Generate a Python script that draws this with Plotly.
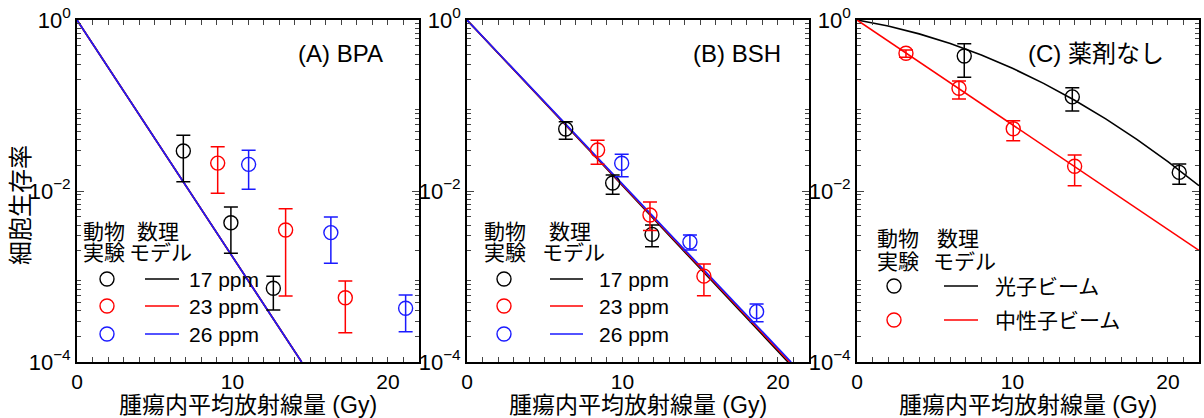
import plotly.graph_objects as go

# ---------------- data ----------------
# Panel A: BPA
a_dose_17 = [6.84, 9.90, 12.63]
a_sf_17 = [0.0294, 0.00426, 7.28e-4]
a_hi_17 = [0.0448, 0.0065, 1.01e-3]
a_lo_17 = [0.01285, 0.00187, 4.06e-4]
a_dose_23 = [9.05, 13.42, 17.26]
a_sf_23 = [0.0212, 0.0035, 5.65e-4]
a_hi_23 = [0.033, 0.0062, 8.86e-4]
a_lo_23 = [0.0094, 5.9e-4, 2.2e-4]
a_dose_26 = [11.04, 16.33, 21.14]
a_sf_26 = [0.0205, 0.00326, 4.25e-4]
a_hi_26 = [0.0299, 0.00497, 6.08e-4]
a_lo_26 = [0.0105, 0.00143, 2.26e-4]
a_model_dose_17 = [0, 14.45]
a_model_dose_23 = [0, 14.45]
a_model_dose_26 = [0, 14.45]
a_model_sf = [1.0, 1e-4]

# Panel B: BSH
b_dose_17 = [6.35, 9.37, 11.90]
b_sf_17 = [0.0531, 0.0124, 0.00311]
b_hi_17 = [0.0647, 0.0154, 0.0040]
b_lo_17 = [0.0403, 0.00915, 0.00223]
b_dose_23 = [8.40, 11.77, 15.24]
b_sf_23 = [0.0302, 0.00524, 0.00101]
b_hi_23 = [0.0392, 0.00743, 0.0014]
b_lo_23 = [0.0205, 0.00344, 5.97e-4]
b_dose_26 = [9.95, 14.34, 18.63]
b_sf_26 = [0.0211, 0.00253, 3.88e-4]
b_hi_26 = [0.0269, 0.00306, 4.77e-4]
b_lo_26 = [0.0147, 0.00204, 2.96e-4]
b_model_dose_17 = [0, 20.65]
b_model_dose_23 = [0, 20.75]
b_model_dose_26 = [0, 20.85]
b_model_sf = [1.0, 1e-4]

# Panel C: no drug
c_dose_photon = [6.90, 13.85, 20.73]
c_sf_photon = [0.379, 0.126, 0.0165]
c_hi_photon = [0.528, 0.161, 0.0207]
c_lo_photon = [0.214, 0.0863, 0.0120]
c_dose_neutron = [3.15, 6.56, 10.05, 14.0]
c_sf_neutron = [0.408, 0.159, 0.0535, 0.0195]
c_hi_neutron = [0.446, 0.194, 0.0664, 0.0264]
c_lo_neutron = [0.366, 0.119, 0.0388, 0.0115]
c_model_dose_photon = [0, 2, 4, 6, 8, 10, 12, 14, 16, 18, 20, 22]
c_model_sf_photon = [1.0, 0.850, 0.688, 0.530, 0.390, 0.2725, 0.1816,
                     0.1153, 0.0698, 0.0402, 0.0221, 0.01153]
c_model_dose_neutron = [0, 22]
c_model_sf_neutron = [1.0, 0.00202]

x_ticks = [0, 10, 20]
y_label_vals = [1, 0.01, 0.0001]
y_label_text = ["10<sup>0</sup>", "10<sup>\u22122</sup>", "10<sup>\u22124</sup>"]
y_decades_unlabelled = [0.1, 0.001]

panel_labels = ["(A) BPA", "(B) BSH", "(C) 薬剤なし"]
x_title = "腫瘍内平均放射線量 (Gy)"
y_title = "細胞生存率"
leg_ppm = ["17 ppm", "23 ppm", "26 ppm"]
leg_beam = ["光子ビーム", "中性子ビーム"]

# ---------------- style ----------------
W, H = 1204, 418
BLACK, RED, BLUE = "#000000", "#ff0000", "#1a1aff"
FONT = "Liberation Sans, Arial, Noto Sans CJK JP, sans-serif"


def px(x):          # page pixel -> paper fraction
    return x / W


def py(y):
    return 1 - y / H


fig = go.Figure()


def add_points(xa, ya, dose, sf, hi, lo, color):
    fig.add_trace(go.Scatter(
        x=dose, y=sf, mode="markers", xaxis=xa, yaxis=ya, showlegend=False,
        marker=dict(symbol="circle-open", size=14, color=color, line=dict(width=1.4, color=color)),
        error_y=dict(type="data", symmetric=False,
                     array=[h - v for h, v in zip(hi, sf)],
                     arrayminus=[v - l for v, l in zip(sf, lo)],
                     color=color, thickness=1.5, width=7),
    ))


def add_line(xa, ya, dose, sf, color):
    fig.add_trace(go.Scatter(
        x=dose, y=sf, mode="lines", xaxis=xa, yaxis=ya, showlegend=False,
        line=dict(color=color, width=1.6),
    ))


# Panel A
add_line("x", "y", a_model_dose_17, a_model_sf, BLACK)
add_line("x", "y", a_model_dose_23, a_model_sf, RED)
add_line("x", "y", a_model_dose_26, a_model_sf, BLUE)
add_points("x", "y", a_dose_17, a_sf_17, a_hi_17, a_lo_17, BLACK)
add_points("x", "y", a_dose_23, a_sf_23, a_hi_23, a_lo_23, RED)
add_points("x", "y", a_dose_26, a_sf_26, a_hi_26, a_lo_26, BLUE)
# Panel B
add_line("x2", "y2", b_model_dose_17, b_model_sf, BLACK)
add_line("x2", "y2", b_model_dose_23, b_model_sf, RED)
add_line("x2", "y2", b_model_dose_26, b_model_sf, BLUE)
add_points("x2", "y2", b_dose_17, b_sf_17, b_hi_17, b_lo_17, BLACK)
add_points("x2", "y2", b_dose_23, b_sf_23, b_hi_23, b_lo_23, RED)
add_points("x2", "y2", b_dose_26, b_sf_26, b_hi_26, b_lo_26, BLUE)
# Panel C
add_line("x3", "y3", c_model_dose_photon, c_model_sf_photon, BLACK)
add_line("x3", "y3", c_model_dose_neutron, c_model_sf_neutron, RED)
add_points("x3", "y3", c_dose_photon, c_sf_photon, c_hi_photon, c_lo_photon, BLACK)
add_points("x3", "y3", c_dose_neutron, c_sf_neutron, c_hi_neutron, c_lo_neutron, RED)

panel_left = [77, 467, 857]
panel_w = 342
top, bottom = 20, 362

minor_y = [k * 10 ** e for e in range(-4, 0) for k in range(2, 10)]

layout = dict(
    width=W, height=H, margin=dict(l=0, r=0, t=0, b=0),
    paper_bgcolor="white", plot_bgcolor="white",
    font=dict(family=FONT, size=20, color="black"),
    showlegend=False,
)
for i, L in enumerate(panel_left):
    sfx = "" if i == 0 else str(i + 1)
    layout["xaxis" + sfx] = dict(
        domain=[px(L), px(L + panel_w)], range=[0, 22], anchor="y" + sfx,
        tickmode="array", tickvals=x_ticks, ticks="inside", ticklen=5, tickwidth=1.2,
        minor=dict(dtick=1, ticks="inside", ticklen=5, tickwidth=1.2, showgrid=False),
        showline=True, linewidth=1.8, linecolor="black", mirror="ticks",
        showgrid=False, zeroline=False, automargin=False,
        tickfont=dict(size=21),
        title=dict(text=x_title, font=dict(size=23), standoff=2),
    )
    layout["yaxis" + sfx] = dict(
        domain=[py(bottom), py(top)], type="log", range=[-4, 0], anchor="x" + sfx,
        tickmode="array", tickvals=y_label_vals, ticktext=y_label_text,
        ticks="inside", ticklen=7, tickwidth=1.2,
        minor=dict(tickmode="array", tickvals=minor_y, ticks="inside", ticklen=4,
                   tickwidth=1, showgrid=False),
        showline=True, linewidth=1.8, linecolor="black", mirror="ticks",
        showgrid=False, zeroline=False, automargin=False,
        tickfont=dict(size=22),
    )
    # longer ticks at the unlabelled decades, drawn by an overlaid axis
    layout["yaxis" + str(4 + i)] = dict(
        domain=[py(bottom), py(top)], type="log", range=[-4, 0], anchor="x" + sfx,
        overlaying="y" + sfx, tickmode="array", tickvals=y_decades_unlabelled,
        showticklabels=False,
        ticks="inside", ticklen=7, tickwidth=1.2, mirror="ticks", showline=False,
        showgrid=False, zeroline=False, automargin=False,
    )

annotations = []
shapes = []


def text(x, y, s, size=21, anchor="center", angle=0):
    annotations.append(dict(xref="paper", yref="paper", x=px(x), y=py(y), text=s,
                            showarrow=False, xanchor=anchor, yanchor="middle",
                            textangle=angle, font=dict(size=size, family=FONT)))


def circle(x, y, color):
    shapes.append(dict(type="circle", xref="paper", yref="paper",
                       xsizemode="pixel", ysizemode="pixel",
                       xanchor=px(x), yanchor=py(y), x0=-7, x1=7, y0=-7, y1=7,
                       line=dict(color=color, width=1.4)))


def seg(x0, x1, y, color):
    shapes.append(dict(type="line", xref="paper", yref="paper",
                       x0=px(x0), x1=px(x1), y0=py(y), y1=py(y),
                       line=dict(color=color, width=1.6)))


# y-axis title (shared, left)
text(21, 205, y_title, size=24, angle=-90)

# panel labels
text(340, 53, panel_labels[0], size=24)
text(737, 53, panel_labels[1], size=24)
text(1096, 53, panel_labels[2], size=24)

# legends A & B
for cx, lx0, lx1, tx, h1, h2 in [(107, 145, 179, 187, 104, 158),
                                 (504, 550, 583, 597, 505, 570)]:
    text(h1, 231, "動物")
    text(h1, 252, "実験")
    text(h2, 231, "数理")
    text(h2 + 3, 252, "モデル")
    for k, (yy, col) in enumerate(zip([279, 306, 334], [BLACK, RED, BLUE])):
        circle(cx, yy, col)
        seg(lx0, lx1, yy, col)
        text(tx, yy, leg_ppm[k], anchor="left")

# legend C
text(898, 238, "動物")
text(898, 261, "実験")
text(958, 238, "数理")
text(964, 261, "モデル")
for k, (yy, col) in enumerate(zip([286, 320], [BLACK, RED])):
    circle(894, yy, col)
    seg(944, 978, yy, col)
    text(993, yy, leg_beam[k], anchor="left")

layout["annotations"] = annotations
layout["shapes"] = shapes
fig.update_layout(**layout)
fig.write_html(
    "out.html",
    config={"displayModeBar": False},
    post_script="document.body.style.margin='0';document.body.style.overflow='hidden';",
)
